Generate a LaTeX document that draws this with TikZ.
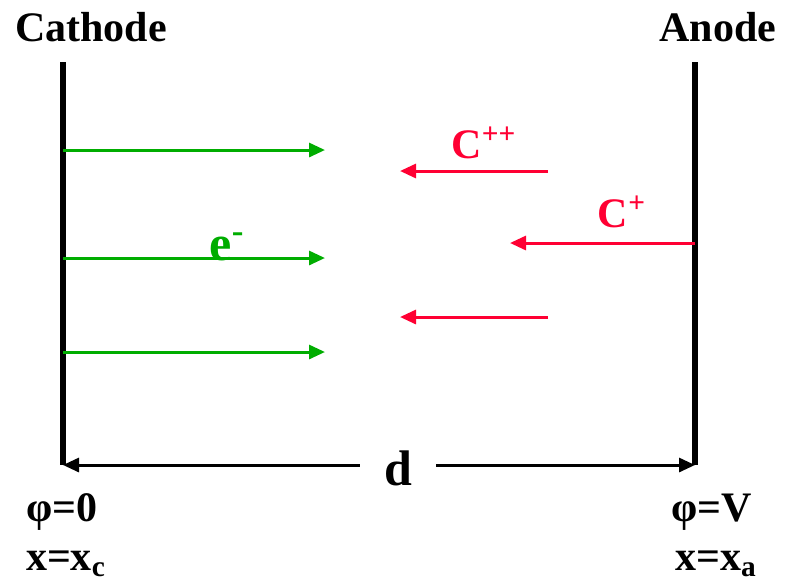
\documentclass[tikz,border=0pt]{standalone}
\usepackage{fontspec}
\setmainfont{Liberation Serif}
\usetikzlibrary{arrows.meta, positioning}
\definecolor{elecGreen}{HTML}{00AD00}
\definecolor{ionRed}{HTML}{FF0033}
\tikzset{
  plate/.style={line width=2.6pt, black},
  arrowE/.style={-{Triangle[length=8pt, width=7pt]}, elecGreen, line width=1.5pt},
  arrowI/.style={-{Triangle[length=8pt, width=7pt]}, ionRed, line width=1.5pt},
  arrowD/.style={{Triangle[length=8pt, width=7pt]}-{Triangle[length=8pt, width=7pt]}, black, line width=1.5pt},
  lbl/.style={font=\fontsize{21}{25}\selectfont\bfseries, inner sep=1pt},
  big/.style={font=\fontsize{25}{30}\selectfont\bfseries, inner sep=1pt},
}

\begin{document}
\begin{tikzpicture}[x=0.5pt, y=-0.5pt]
    \useasboundingbox (0,0) rectangle (793,586);
    % plates
    \coordinate (cTop) at (63,62);  \coordinate (cBot) at (63,465);
    \coordinate (aTop) at (695,62); \coordinate (aBot) at (695,465);
    \draw[plate] (cTop) -- (cBot);
    \draw[plate] (aTop) -- (aBot);
    \node[lbl] (cath) at (91,27) {Cathode};
    \node[lbl] (anod) at (718,27) {Anode};
    % electrons
    \foreach \y [count=\i] in {150,258,352} {
      \coordinate (e\i s) at (63,\y); \coordinate (e\i t) at (325,\y);
      \draw[arrowE] (e\i s) -- (e\i t);
    }
    \node[big, text=elecGreen] (elec) at (227,247) {e\textsuperscript{-}};
    % ions
    \coordinate (i1s) at (548,171); \coordinate (i1t) at (400,171);
    \coordinate (i2s) at (695,243); \coordinate (i2t) at (510,243);
    \coordinate (i3s) at (548,317); \coordinate (i3t) at (400,317);
    \draw[arrowI] (i1s) -- (i1t);
    \draw[arrowI] (i2s) -- (i2t);
    \draw[arrowI] (i3s) -- (i3t);
    \node[lbl, text=ionRed] (cpp) at (484,143) {C\textsuperscript{++}};
    \node[lbl, text=ionRed] (cp) at (622,212) {C\textsuperscript{+}};
    % gap
    \draw[arrowD] (cBot) -- (aBot);
    \node[big, fill=white, inner xsep=12pt] (gap) at (398,468) {d};
    % potentials
    \node[lbl] (phic) at (62,512) {φ=0};
    \node[lbl] (xc) at (66,564) {x=x\textsubscript{c}};
    \node[lbl] (phia) at (712,512) {φ=V};
    \node[lbl] (xa) at (716,564) {x=x\textsubscript{a}};
\end{tikzpicture}
\end{document}
